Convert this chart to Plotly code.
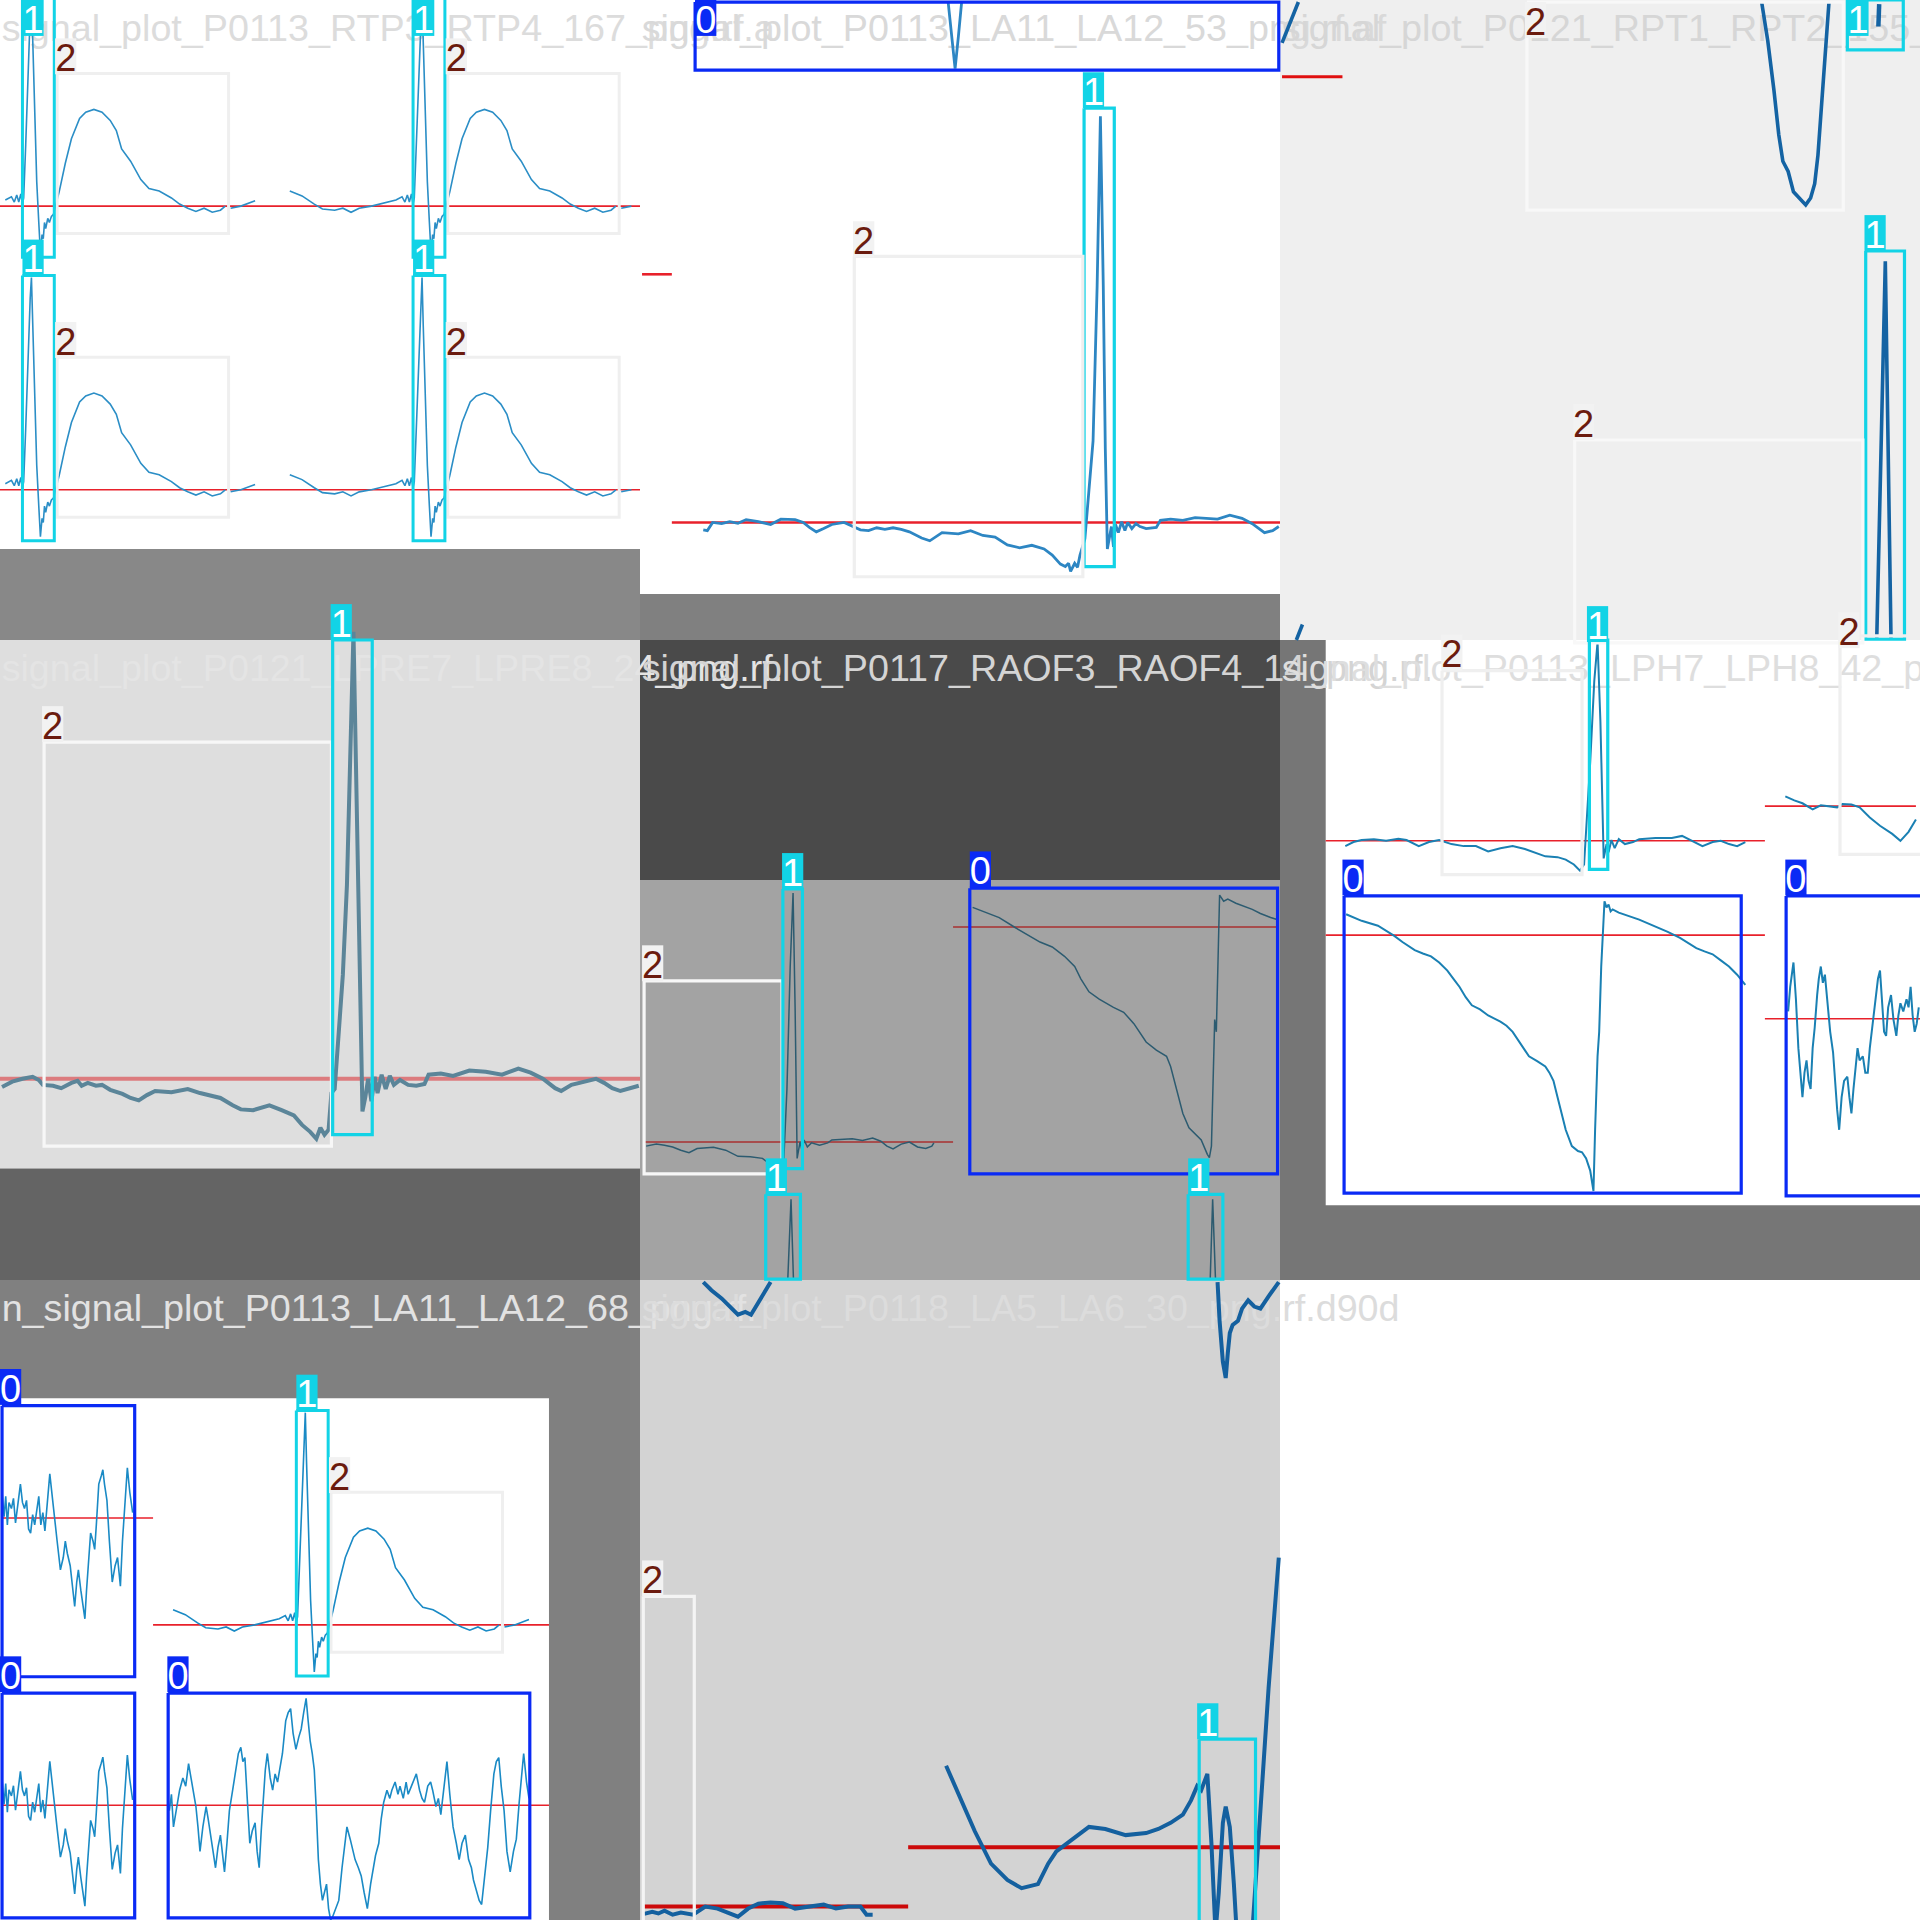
import plotly.graph_objects as go

# Readings were taken on 640 px tiles magnified to 1568 units per tile
Z = 1568 / 640.0
TILE = 640
FONT = "Liberation Sans, Arial, sans-serif"

CYAN = "#12d3e6"
BLUE = "#0a2af5"
BOX2_LINE = "#efefef"
BOX2_FAINT = "#f8f8f8"
LAB2_BG = "#f2f2f2"
LAB2_FG = "#6b1b0e"
RED = "#e8212b"

# ---------------- tile backgrounds: (col, row, x0, x1, y0, y1, colour)
BACKGROUNDS = [
    (0, 0, 0, 1568, 0, 1345, "#ffffff"),
    (0, 0, 0, 1568, 1345, 1568, "#888888"),
    (1, 0, 0, 1568, 0, 1455, "#ffffff"),
    (1, 0, 0, 1568, 1455, 1568, "#808080"),
    (2, 0, 0, 1568, 0, 1568, "#efefef"),
    (0, 1, 0, 1568, 0, 1295, "#dedede"),
    (0, 1, 0, 1568, 1295, 1568, "#646464"),
    (1, 1, 0, 1568, 0, 588, "#4a4a4a"),
    (1, 1, 0, 1568, 588, 1568, "#a3a3a3"),
    (2, 1, 0, 1568, 0, 1568, "#767676"),
    (2, 1, 112, 1568, 0, 1385, "#ffffff"),
    (0, 2, 0, 1568, 0, 1568, "#808080"),
    (0, 2, 0, 1345, 290, 1568, "#ffffff"),
    (1, 2, 0, 1568, 0, 1568, "#d3d3d3"),
]

# ---------------- file-name titles (col, row, text, colour)
TITLES = [
    (0, 0, "signal_plot_P0113_RTP3_RTP4_167_png.rf.a", "#dcdcdc"),
    (1, 0, "signal_plot_P0113_LA11_LA12_53_png.rf.af", "#d9d9d9"),
    (2, 0, "signal_plot_P0121_RPT1_RPT2_155_png.rf.4", "#d6d6d6"),
    (0, 1, "signal_plot_P0121_LPRE7_LPRE8_24_png.rf.", "#e4e4e4"),
    (1, 1, "signal_plot_P0117_RAOF3_RAOF4_14_png.rf.", "#d4d4d4"),
    (2, 1, "signal_plot_P0113_LPH7_LPH8_42_png.rf.c4", "#dedede"),
    (0, 2, "n_signal_plot_P0113_LA11_LA12_68_png.rf.", "#e2e2e2"),
    (1, 2, "signal_plot_P0118_LA5_LA6_30_png.rf.d90d", "#dcdcdc"),
]

# ---------------- red reference lines (col, row, x0, x1, y, colour, width)
RED_LINES = [
    (0, 0, 0, 1568, 505, RED, 1.6), (0, 0, 0, 1568, 1200, RED, 1.6),
    (1, 0, 78, 1568, 1280, RED, 2.6), (1, 0, 5, 78, 672, RED, 2.6),
    (2, 0, 5, 153, 188, "#e01010", 3.2),
    (0, 1, 0, 1568, 1075, "#dc7b7e", 4),
    (1, 1, 10, 767, 1230, "#a83030", 1.5), (1, 1, 767, 1562, 703, "#a83030", 1.5),
    (2, 1, 112, 1188, 492, RED, 1.6), (2, 1, 1188, 1558, 407, RED, 1.6),
    (2, 1, 112, 1188, 723, RED, 1.6), (2, 1, 1188, 1568, 928, RED, 1.6),
    (0, 2, 5, 375, 583, RED, 1.6), (0, 2, 375, 1345, 845, RED, 1.6),
    (0, 2, 5, 1345, 1287, RED, 1.6),
    (1, 2, 8, 657, 1535, "#cc0a0a", 4), (1, 2, 657, 1568, 1390, "#cc0a0a", 4),
]

# ---------------- repeated ECG-like trace (relative to spike box left / baseline)
T1_X = [-302, -272, -242, -222, -192, -172, -152, -132, -102, -72, -42, -27, -20, -14, -9, -4, 0,
        3, 8, 14, 19, 22, 25, 29, 35, 40, 44, 48, 51, 54, 57, 62, 66, 71, 76,
        90, 105, 120, 140, 155, 175, 195, 215, 230, 243, 265, 290, 310, 335, 365, 385, 405, 425,
        445, 465, 485, 497, None, 510, 535, 570]
T1_Y = [-37, -25, -5, 7, 10, 5, 15, 5, 0, -7, -15, -23, -10, -27, -10, -30, -5,
        -20, -150, -345, -470, -520, -400, -245, -60, 40, 115, 70, 80, 40, 55, 30, 40, 25, 20,
        -35, -105, -165, -215, -230, -237, -230, -210, -185, -140, -110, -65, -43, -37, -20, -5, 5, 13,
        5, 15, 10, 0, None, 5, 0, -13]
# copies of it: (col, row, origin x, origin y, colour, width)
T1_COPIES = [
    (0, 0, 55, 505, "#2b8ec6", 1.6), (0, 0, 1012, 505, "#2b8ec6", 1.6),
    (0, 0, 55, 1200, "#2b8ec6", 1.6), (0, 0, 1012, 1200, "#2b8ec6", 1.6),
    (0, 2, 726, 845, "#1a8ac5", 1.6),
]

# ---------------- tile 2
S2_X = [155, 165, 178, 200, 220, 240, 260, 290, 320, 345, 380, 400, 415, 432, 450, 470, 500, 520, 540,
        560, 580, 600, 620, 640, 660, 690, 710, 740, 780, 810, 840, 870, 900, 930, 960, 990, 1010, 1030,
        1042, 1050, 1055, 1065, 1072, 1078, 1090, 1100, 1110, 1120, 1128, 1135, 1140, 1145, 1150, 1155,
        1160, 1165, 1172, 1180, 1188, 1195, 1205, 1215, 1225, 1240, 1265, 1275, 1300, 1330, 1360, 1390,
        1415, 1445, 1475, 1500, 1530, 1550, 1565]
S2_Y = [1298, 1300, 1280, 1283, 1278, 1282, 1273, 1278, 1285, 1272, 1273, 1280, 1292, 1303, 1295, 1285,
        1280, 1290, 1298, 1300, 1293, 1297, 1293, 1297, 1303, 1318, 1325, 1305, 1308, 1300, 1312, 1316,
        1335, 1342, 1336, 1345, 1360, 1382, 1388, 1380, 1400, 1380, 1390, 1360, 1320, 1200, 1080, 700,
        285, 700, 1100, 1345, 1320, 1290, 1340, 1285, 1305, 1278, 1300, 1280, 1295, 1283, 1290, 1295,
        1292, 1275, 1272, 1275, 1268, 1270, 1272, 1262, 1270, 1283, 1305, 1300, 1290]
S2_DIP_X = [755, 765, 772, 780, 788]
S2_DIP_Y = [5, 100, 168, 90, 5]

# ---------------- tile 3
S3_U_X = [1180, 1195, 1210, 1222, 1232, 1245, 1258, 1275, 1288, 1300, 1310, 1318, 1325, 1335, 1345]
S3_U_Y = [5, 100, 220, 330, 395, 420, 470, 490, 502, 485, 450, 380, 280, 140, 5]
S3_SPK_X = [1462, 1483, 1497]
S3_SPK_Y = [1568, 640, 1568]
S3_TL_X = [5, 45]
S3_TL_Y = [105, 5]
S3_BL_X = [40, 55]
S3_BL_Y = [1568, 1530]
S3_TICK_X = [1468, 1466]
S3_TICK_Y = [10, 65]

# ---------------- tile 4
S4_X = [5, 30, 55, 80, 95, 105, 130, 150, 175, 190, 200, 215, 235, 250, 270, 300, 320, 340, 360, 380,
        420, 460, 490, 540, 570, 590, 620, 660, 690, 720, 740, 760, 775, 785, 795, 805, 812, 820, 830,
        840, 850, 856, 862, 866, 872, 878, 884, 888, 895, 902, 910, 918, 925, 935, 945, 955, 965, 980,
        1000, 1020, 1040, 1050, 1080, 1110, 1150, 1190, 1230, 1270, 1300, 1330, 1360, 1375, 1400, 1430,
        1460, 1480, 1500, 1520, 1540, 1565]
S4_Y = [1095, 1082, 1075, 1070, 1078, 1090, 1092, 1098, 1085, 1080, 1092, 1085, 1092, 1090, 1102, 1112,
        1122, 1128, 1115, 1105, 1108, 1100, 1110, 1122, 1140, 1150, 1152, 1140, 1152, 1165, 1188, 1205,
        1222, 1195, 1212, 1200, 1110, 1100, 960, 820, 600, 350, 60, -20, 300, 650, 1000, 1155, 1120,
        1075, 1130, 1070, 1110, 1065, 1100, 1068, 1090, 1078, 1090, 1092, 1088, 1065, 1062, 1068, 1055,
        1058, 1065, 1050, 1060, 1075, 1098, 1105, 1090, 1082, 1075, 1085, 1098, 1105, 1100, 1092]

# ---------------- tile 5
S5A_X = [15, 40, 60, 80, 100, 120, 140, 180, 210, 240, 270, 300, 320, 340, 352, 360, 368, 375, 380, 385,
         392, 397, 402, 410, 420, 440, 460, 470, 520, 545, 570, 590, 605, 620, 640, 660, 680, 700, 715, 720]
S5A_Y = [1240, 1235, 1238, 1242, 1250, 1256, 1246, 1243, 1250, 1265, 1266, 1270, 1285, 1288, 1282, 1100,
         800, 620, 900, 1270, 1230, 1250, 1225, 1242, 1232, 1238, 1232, 1225, 1222, 1226, 1220, 1228,
         1240, 1247, 1235, 1230, 1242, 1246, 1240, 1232]
S5B_X = [815, 850, 880, 920, 950, 980, 1010, 1040, 1065, 1080, 1100, 1125, 1160, 1185, 1210, 1240, 1265,
         1290, 1300, 1315, 1330, 1345, 1360, 1375, 1390, 1395, 1400, 1405, 1408, 1412, 1416, 1420, 1430,
         1440, 1460, 1480, 1500, 1520, 1545, 1565]
S5B_Y = [655, 668, 680, 705, 722, 740, 752, 775, 800, 830, 862, 880, 900, 912, 940, 985, 1005, 1020,
         1045, 1100, 1160, 1195, 1210, 1225, 1260, 1268, 1240, 1050, 930, 960, 800, 625, 640, 635, 645,
         652, 660, 670, 680, 686]
S5C_X = [362, 370, 376]
S5C_Y = [1568, 1370, 1568]
S5D_X = [1397, 1403, 1410]
S5D_Y = [1568, 1370, 1568]

# ---------------- tile 6
S6A_X = [160, 180, 200, 230, 260, 290, 310, 340, 365, 390, 420, 450, 480, 510, 540, 570, 600, 620, 650,
         680, 700, 720, 735, 745, 752, 760, 770, 778, 785, 790, 793, 800, 805, 812, 820, 830, 845, 865,
         880, 920, 960, 985, 1010, 1035, 1060, 1080, 1100, 1120, 1140]
S6A_Y = [505, 495, 490, 488, 492, 487, 490, 505, 495, 490, 500, 505, 505, 518, 510, 505, 512, 520, 530,
         532, 538, 550, 565, 550, 440, 300, 100, 5, 200, 450, 535, 500, 520, 490, 510, 488, 500, 495,
         488, 485, 485, 480, 492, 505, 495, 492, 500, 505, 495]
S6B_X = [1238, 1260, 1280, 1305, 1325, 1345, 1365, 1378, 1400, 1420, 1445, 1470, 1500, 1520, 1540, 1558]
S6B_Y = [383, 393, 400, 415, 405, 408, 410, 402, 403, 410, 435, 455, 475, 492, 470, 440]
S6C_X = [162, 200, 240, 260, 280, 300, 330, 350, 370, 390, 410, 425, 440, 455, 470, 490, 510, 540, 555,
         570, 590, 610, 630, 650, 660, 670, 680, 690, 700, 715, 730, 740, 750, 760, 765, 768, 772, 778,
         782, 787, 792, 795, 800, 805, 810, 815, 830, 850, 880, 910, 950, 980, 1020, 1040, 1060, 1080,
         1100, 1120, 1140]
S6C_Y = [672, 688, 700, 712, 725, 740, 760, 768, 775, 790, 810, 830, 850, 875, 895, 905, 920, 935, 945,
         960, 990, 1020, 1032, 1045, 1060, 1080, 1120, 1160, 1200, 1240, 1252, 1255, 1270, 1300, 1340,
         1350, 1200, 1020, 960, 800, 700, 640, 655, 648, 665, 660, 668, 675, 685, 698, 715, 730, 755,
         763, 770, 785, 800, 820, 845]
S6D_X = [1245, 1250, 1258, 1264, 1270, 1276, 1280, 1285, 1290, 1295, 1300, 1305, 1310, 1316, 1320, 1325,
         1330, 1335, 1340, 1348, 1355, 1360, 1365, 1370, 1376, 1382, 1390, 1395, 1400, 1405, 1410, 1415,
         1420, 1428, 1434, 1440, 1445, 1450, 1458, 1465, 1470, 1475, 1480, 1485, 1490, 1497, 1503, 1510,
         1515, 1520, 1527, 1535, 1540, 1545, 1550, 1555, 1560, 1565]
S6D_Y = [910, 850, 790, 880, 1000, 1080, 1120, 1060, 1030, 1080, 1100, 1000, 950, 870, 830, 800, 840,
         820, 870, 960, 1010, 1090, 1150, 1200, 1120, 1080, 1070, 1120, 1160, 1100, 1040, 1000, 1030,
         1020, 1060, 1060, 1000, 960, 900, 830, 810, 880, 960, 970, 900, 870, 930, 970, 920, 890, 910,
         880, 900, 850, 920, 960, 940, 900]

# ---------------- tile 7 noisy traces
S7A_X = [5, 10, 14, 18, 22, 28, 33, 38, 45, 50, 55, 60, 65, 70, 75, 80, 85, 90, 95, 100, 105, 110, 115,
         122, 128, 135, 140, 148, 155, 160, 165, 172, 178, 183, 188, 192, 198, 204, 208, 212, 218, 222,
         228, 232, 236, 242, 248, 252, 256, 262, 268, 275, 282, 288, 292, 295, 300, 306, 312, 318, 325]
S7A_Y = [520, 580, 530, 600, 545, 560, 535, 595, 540, 500, 545, 560, 540, 610, 620, 575, 600, 560, 530,
         600, 570, 615, 560, 475, 530, 600, 640, 710, 680, 640, 670, 700, 760, 800, 740, 710, 760, 800,
         830, 760, 660, 620, 640, 660, 600, 500, 480, 465, 500, 540, 640, 740, 700, 680, 720, 750, 640,
         540, 460, 520, 570]
S7A_COPIES = [0, 704]
S7C_X = [415, 420, 425, 432, 440, 448, 455, 462, 470, 480, 485, 490, 497, 505, 510, 515, 522, 528, 534,
         540, 545, 550, 556, 562, 570, 578, 584, 590, 595, 600, 606, 612, 618, 625, 630, 635, 640, 645,
         650, 655, 662, 668, 674, 680, 686, 692, 696, 700, 706, 712, 718, 725, 732, 738, 744, 750, 755,
         760, 765, 770, 775, 780, 785, 790, 795, 800, 805, 810, 815, 822, 830, 838, 845, 850, 858, 865,
         870, 878, 885, 892, 900, 908, 914, 920, 928, 934, 940, 948, 955, 960, 968, 975, 980, 988, 995,
         1000, 1008, 1015, 1020, 1028, 1034, 1040, 1048, 1055, 1060, 1068, 1074, 1080, 1088, 1095, 1102,
         1110, 1118, 1125, 1132, 1140, 1148, 1155, 1160, 1168, 1174, 1180, 1188, 1195, 1202, 1210, 1216,
         1222, 1228, 1235, 1242, 1250, 1258, 1265, 1272, 1278, 1283, 1290, 1296]
S7C_Y = [1300, 1260, 1340, 1300, 1250, 1220, 1240, 1185, 1230, 1290, 1340, 1400, 1340, 1290, 1320, 1350,
         1400, 1440, 1390, 1360, 1400, 1450, 1380, 1300, 1250, 1200, 1160, 1145, 1180, 1170, 1280, 1380,
         1350, 1330, 1400, 1440, 1350, 1280, 1200, 1160, 1220, 1250, 1210, 1230, 1190, 1160, 1120, 1080,
         1060, 1050, 1110, 1150, 1120, 1100, 1060, 1025, 1080, 1130, 1160, 1200, 1300, 1420, 1480, 1520,
         1500, 1480, 1540, 1568, 1560, 1540, 1520, 1440, 1380, 1340, 1370, 1400, 1420, 1440, 1460, 1500,
         1540, 1480, 1440, 1410, 1380, 1320, 1280, 1250, 1270, 1250, 1230, 1260, 1240, 1270, 1230, 1260,
         1240, 1220, 1210, 1250, 1270, 1280, 1240, 1230, 1250, 1290, 1270, 1310, 1240, 1180, 1260, 1340,
         1380, 1420, 1380, 1360, 1420, 1440, 1470, 1500, 1520, 1530, 1450, 1390, 1300, 1210, 1180, 1170,
         1240, 1300, 1400, 1450, 1400, 1370, 1280, 1220, 1160, 1230, 1270]

# ---------------- tile 8
S8A_X = [155, 175, 200, 225, 240, 258, 272, 290, 320]
S8A_Y = [5, 25, 45, 70, 85, 78, 85, 55, 5]
S8B_X = [1415, 1420, 1428, 1435, 1440, 1445, 1452, 1465, 1475, 1490, 1505, 1520, 1540, 1565]
S8B_Y = [5, 100, 200, 240, 180, 130, 110, 100, 70, 50, 65, 70, 40, 5]
S8C_X = [10, 30, 45, 60, 80, 100, 130, 160, 190, 220, 240, 265, 290, 320, 350, 380, 420, 450, 480, 510,
         540, 555, 570]
S8C_Y = [1553, 1548, 1552, 1545, 1555, 1550, 1555, 1535, 1540, 1553, 1560, 1540, 1528, 1525, 1527, 1540,
         1535, 1530, 1540, 1535, 1535, 1555, 1555]
S8D_X = [750, 780, 820, 860, 900, 935, 960, 975, 1000, 1020, 1060, 1100, 1140, 1190, 1240, 1270, 1300,
         1330, 1350, 1365, 1375, 1390, 1400, 1410, 1418, 1428, 1435, 1445, 1455, 1462, 1480, 1500, 1520,
         1540, 1565]
S8D_Y = [1190, 1260, 1350, 1430, 1470, 1490, 1485, 1480, 1430, 1400, 1370, 1340, 1345, 1360, 1355, 1345,
         1330, 1310, 1275, 1240, 1250, 1210, 1380, 1600, 1500, 1330, 1290, 1340, 1480, 1600, 1700, 1600,
         1300, 1000, 680]

# signal traces: (col, row, xs, ys, colour, width)
SIGNALS = [
    (1, 0, S2_X, S2_Y, "#2d86c3", 2.8), (1, 0, S2_DIP_X, S2_DIP_Y, "#2d86c3", 2.8),
    (2, 0, S3_U_X, S3_U_Y, "#1463a3", 3.6), (2, 0, S3_SPK_X, S3_SPK_Y, "#1463a3", 3.6),
    (2, 0, S3_TL_X, S3_TL_Y, "#1463a3", 3.6), (2, 0, S3_BL_X, S3_BL_Y, "#1463a3", 3.6),
    (2, 0, S3_TICK_X, S3_TICK_Y, "#1463a3", 4.5),
    (0, 1, S4_X, S4_Y, "#5b8599", 4),
    (1, 1, S5A_X, S5A_Y, "#2c5b70", 1.5), (1, 1, S5B_X, S5B_Y, "#2c5b70", 1.5),
    (1, 1, S5C_X, S5C_Y, "#2c5b70", 1.5), (1, 1, S5D_X, S5D_Y, "#2c5b70", 1.5),
    (2, 1, S6A_X, S6A_Y, "#1a80b3", 2), (2, 1, S6B_X, S6B_Y, "#1a80b3", 2),
    (2, 1, S6C_X, S6C_Y, "#1a80b3", 2), (2, 1, S6D_X, S6D_Y, "#1a80b3", 2),
    (0, 2, S7C_X, S7C_Y, "#1a8ac5", 1.6),
    (1, 2, S8A_X, S8A_Y, "#14609f", 4), (1, 2, S8B_X, S8B_Y, "#14609f", 4),
    (1, 2, S8C_X, S8C_Y, "#14609f", 4), (1, 2, S8D_X, S8D_Y, "#14609f", 4),
]

# ---------------- detection boxes (col, row, class, x0, x1, y0, y1, outline)
BOXES = [
    (1, 0, "0", 135, 1565, 5, 172, BLUE), (1, 0, "1", 1088, 1162, 265, 1388, CYAN),
    (1, 0, "2", 525, 1085, 628, 1413, BOX2_LINE),
    (2, 0, "2", 605, 1380, 5, 515, BOX2_FAINT), (2, 0, "1", 1390, 1527, 0, 122, CYAN),
    (2, 0, "1", 1435, 1530, 615, 1566, CYAN), (2, 0, "2", 722, 1428, 1078, 1575, BOX2_FAINT),
    (0, 1, "2", 108, 812, 250, 1240, "#f7f7f7"), (0, 1, "1", 815, 912, 0, 1212, CYAN),
    (1, 1, "2", 10, 348, 835, 1308, "#f7f7f7"), (1, 1, "1", 350, 398, 610, 1295, CYAN),
    (1, 1, "0", 808, 1562, 608, 1308, BLUE),
    (1, 1, "1", 308, 393, 1358, 1566, CYAN), (1, 1, "1", 1343, 1428, 1358, 1566, CYAN),
    (2, 1, "2", 397, 740, 75, 575, BOX2_LINE), (2, 1, "1", 758, 803, 0, 562, CYAN),
    (2, 1, "2", 1372, 1575, -10, 525, BOX2_LINE),
    (2, 1, "0", 157, 1130, 627, 1355, BLUE), (2, 1, "0", 1240, 1575, 627, 1362, BLUE),
    (0, 2, "0", 5, 330, 308, 972, BLUE), (0, 2, "0", 5, 330, 1012, 1563, BLUE),
    (0, 2, "0", 412, 1298, 1012, 1563, BLUE),
    (1, 2, "2", 8, 133, 775, 1575, "#f4f4f4"), (1, 2, "1", 1370, 1508, 1125, 1575, CYAN),
]
# class labels: (col, row, class, x0, y0)
LABELS = [
    (0, 0, "1", 810, 1480),
    (1, 0, "0", 135, 0), (1, 0, "1", 1085, 177), (1, 0, "2", 522, 542),
    (2, 0, "2", 600, 5), (2, 0, "1", 1390, 0), (2, 0, "1", 1432, 527), (2, 0, "2", 718, 990),
    (2, 0, "1", 752, 1485), (2, 0, "2", 1368, 1500),
    (0, 1, "2", 103, 162),
    (1, 1, "2", 5, 748), (1, 1, "1", 348, 522), (1, 1, "0", 808, 518),
    (1, 1, "1", 308, 1270), (1, 1, "1", 1343, 1270),
    (2, 1, "2", 395, -13), (2, 1, "0", 153, 538), (2, 1, "0", 1238, 538),
    (0, 2, "0", 0, 218), (0, 2, "0", 0, 922), (0, 2, "0", 410, 922),
    (1, 2, "2", 5, 687), (1, 2, "1", 1365, 1037),
]
LAB_W, LAB_H = 52, 88

LAB_BG = {"0": BLUE, "1": CYAN, "2": LAB2_BG}
LAB_FG = {"0": "#ffffff", "1": "#ffffff", "2": LAB2_FG}


def gx(c, vals):
    return [None if v is None else c * TILE + v / Z for v in vals]


def gy(r, vals):
    return [None if v is None else r * TILE + v / Z for v in vals]


fig = go.Figure()


def add_fill(c, r, x0, x1, y0, y1, colour):
    fig.add_trace(go.Scatter(x=gx(c, [x0, x1, x1, x0, x0]), y=gy(r, [y0, y0, y1, y1, y0]),
                             mode="lines", fill="toself", fillcolor=colour,
                             line=dict(width=0, color=colour), hoverinfo="skip"))


def add_line(c, r, xs, ys, colour, width):
    fig.add_trace(go.Scatter(x=gx(c, xs), y=gy(r, ys), mode="lines",
                             line=dict(color=colour, width=width), hoverinfo="skip"))


def add_rect(c, r, x0, x1, y0, y1, colour, width):
    add_line(c, r, [x0, x1, x1, x0, x0], [y0, y0, y1, y1, y0], colour, width)


def add_text(c, r, x, y, s, colour, size, pos):
    fig.add_trace(go.Scatter(x=gx(c, [x]), y=gy(r, [y]), mode="text", text=[s], textposition=pos,
                             textfont=dict(family=FONT, size=size, color=colour), hoverinfo="skip"))


def add_label(c, r, cls, x0, y0):
    add_fill(c, r, x0, x0 + LAB_W, y0, y0 + LAB_H, LAB_BG[cls])
    add_text(c, r, x0 + LAB_W / 2, y0 + LAB_H / 2 + 13, cls, LAB_FG[cls], 38, "middle center")


# backgrounds
for c, r, x0, x1, y0, y1, col in BACKGROUNDS:
    add_fill(c, r, x0, x1, y0, y1, col)

# titles
for c, r, s, col in TITLES:
    add_text(c, r, 4, 77, s, col, 37.7, "middle right")

# red lines
for c, r, x0, x1, y, col, w in RED_LINES:
    add_line(c, r, [x0, x1], [y, y], col, w)

# signals
for c, r, xs, ys, col, w in SIGNALS:
    add_line(c, r, xs, ys, col, w)

for off in S7A_COPIES:
    add_line(0, 2, S7A_X, [v + off for v in S7A_Y], "#1a8ac5", 1.6)

late_labels = []
for c, r, ox, oy, col, w in T1_COPIES:
    xs, ys = [], []
    for a, b in zip(T1_X, T1_Y):
        if a is None:
            xs.append(None)
            ys.append(None)
        elif 0 <= ox + a <= 1568:
            xs.append(ox + a)
            ys.append(oy + b)
    add_line(c, r, xs, ys, col, w)
    # box "2" and the spike box "1"
    add_rect(c, r, ox + 85, ox + 505, oy - 325, oy + 67, BOX2_LINE, 3)
    add_rect(c, r, ox, ox + 78, oy - 525, oy + 125, CYAN, 3)
    late_labels.append((c, r, "2", ox + 80, oy - 325 - 86))
    ly = oy - 525 - LAB_H
    late_labels.append((c, r, "1", ox, ly if ly >= 0 else 0))

# boxes
for c, r, cls, x0, x1, y0, y1, col in BOXES:
    add_rect(c, r, x0, x1, y0, y1, col, 3.2)

# labels
for c, r, cls, x0, y0 in late_labels + LABELS:
    add_label(c, r, cls, x0, y0)

fig.update_layout(
    width=1920, height=1920, margin=dict(l=0, r=0, t=0, b=0, pad=0),
    paper_bgcolor="#ffffff", plot_bgcolor="#ffffff", showlegend=False,
    xaxis=dict(range=[0, 1920], visible=False, fixedrange=True),
    yaxis=dict(range=[1920, 0], visible=False, fixedrange=True),
)

fig.write_html("out.html", config={"displayModeBar": False})
